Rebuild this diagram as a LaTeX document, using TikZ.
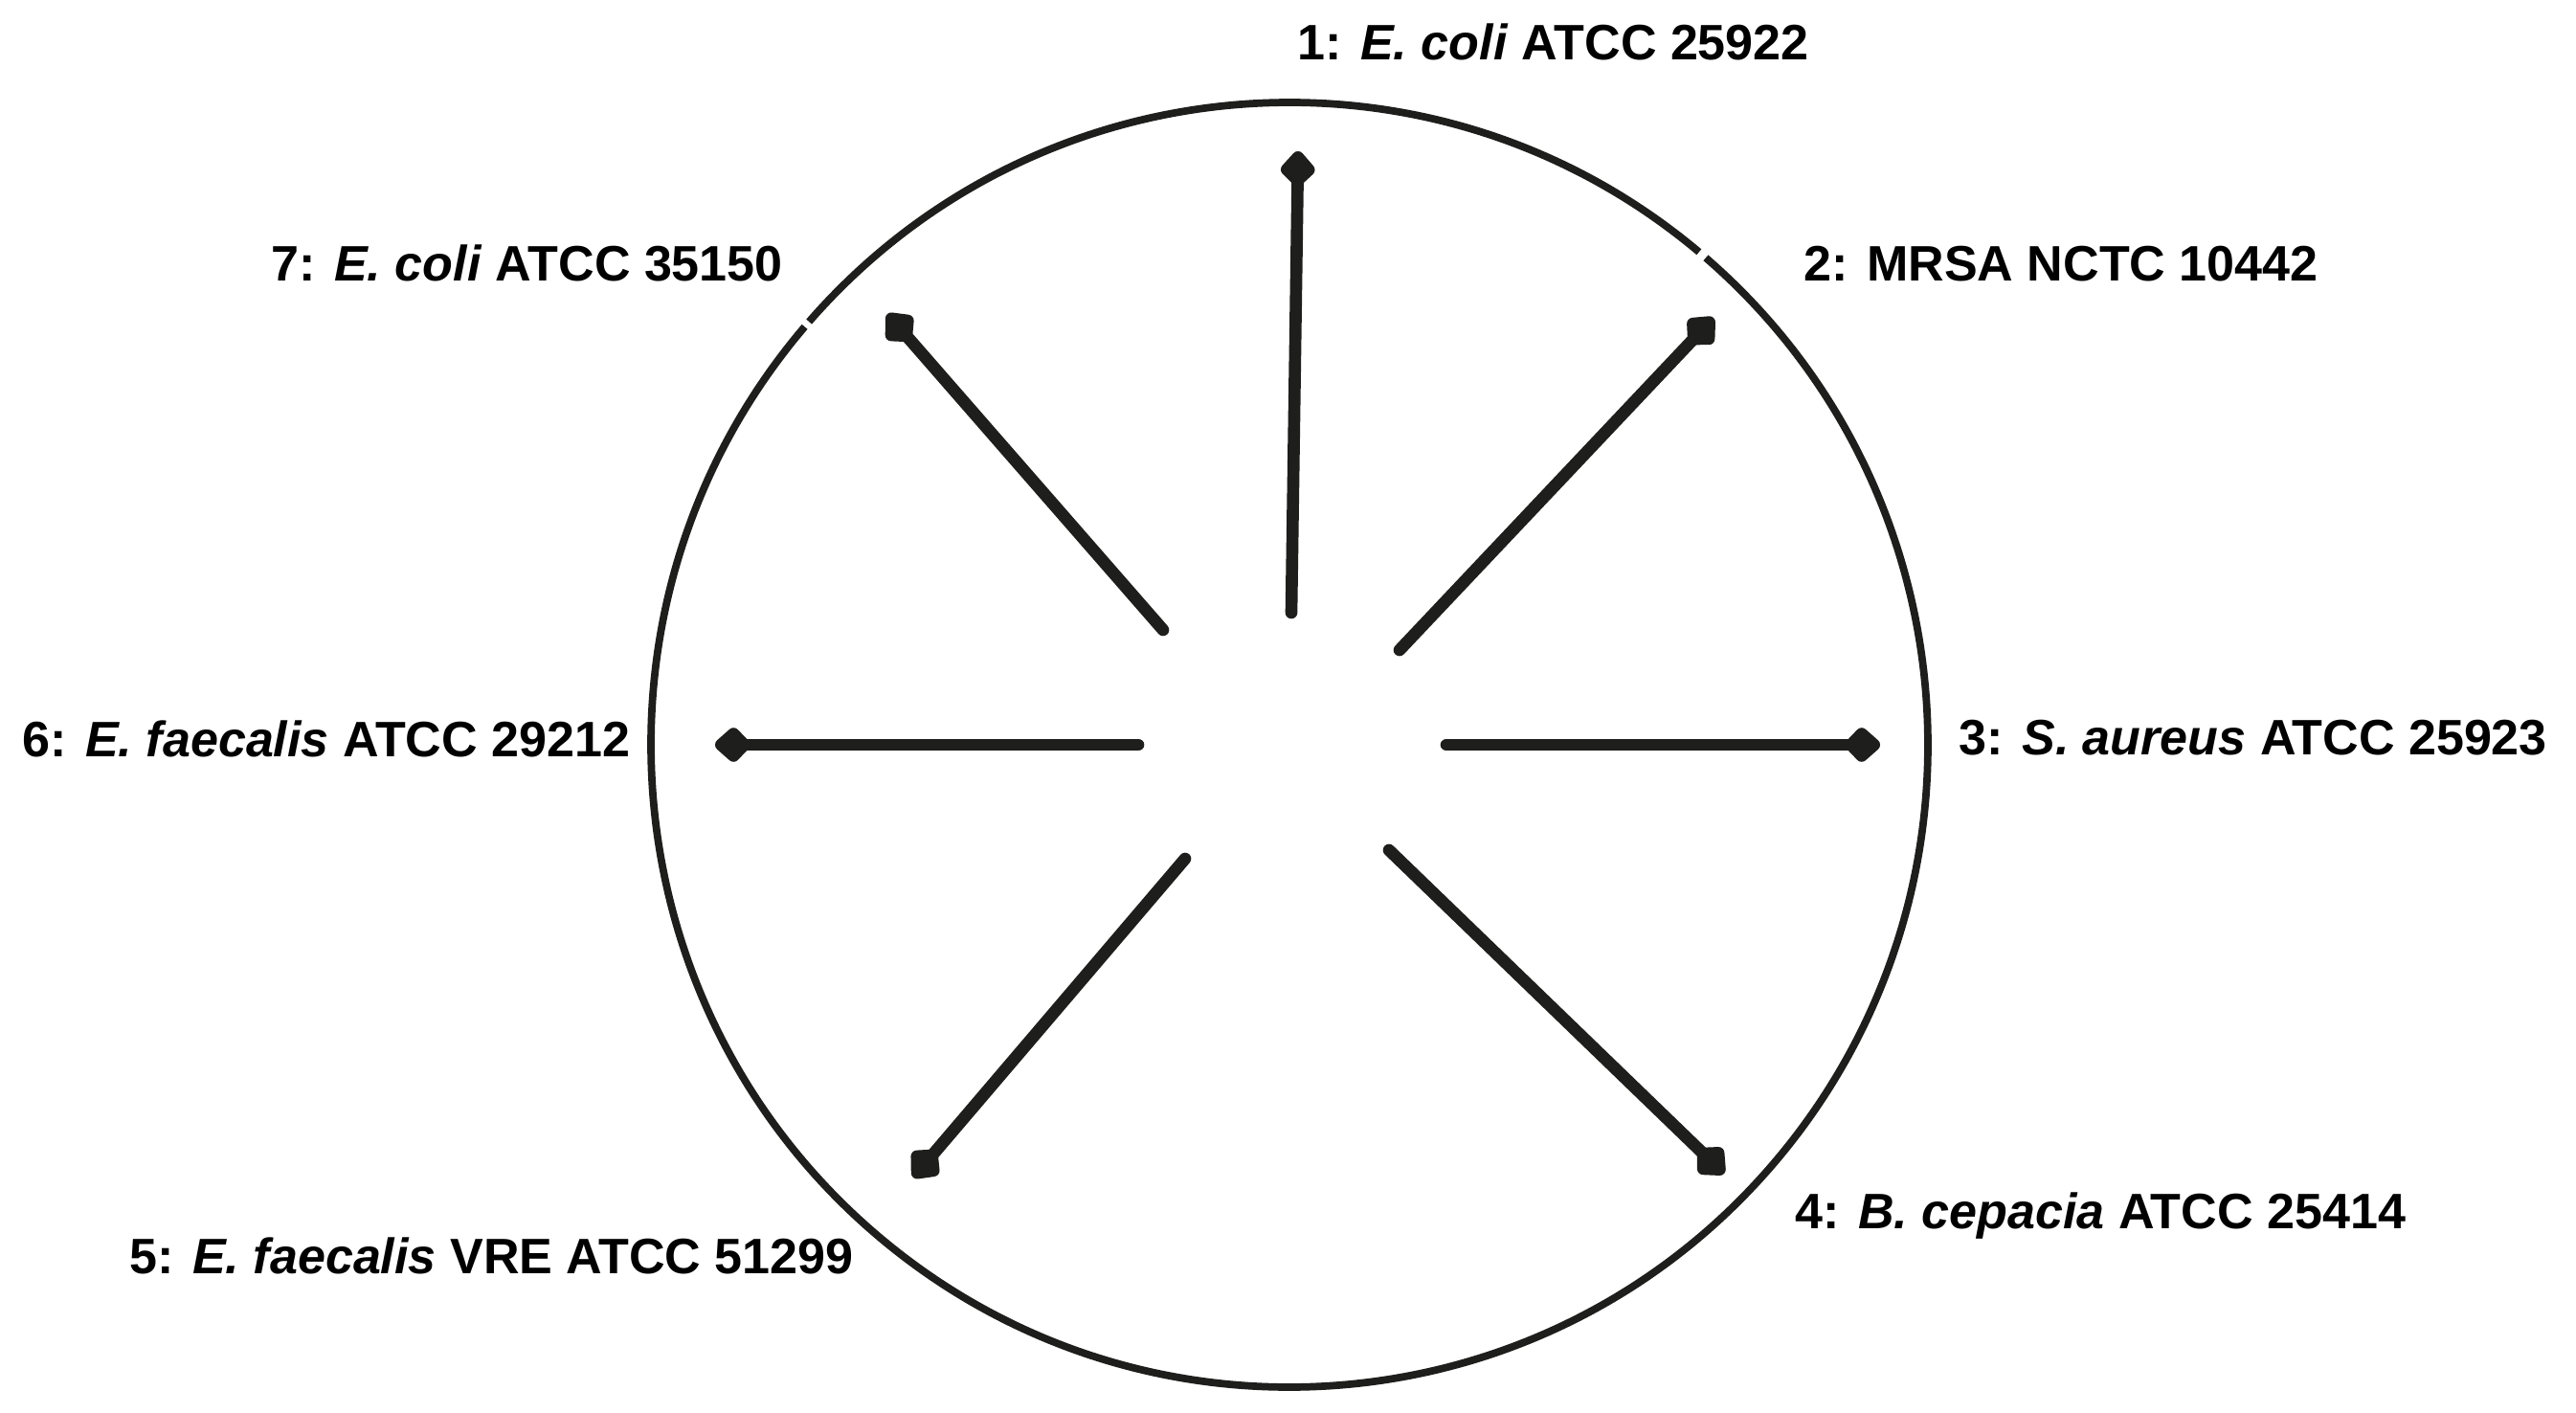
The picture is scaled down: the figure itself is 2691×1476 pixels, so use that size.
\documentclass[tikz,border=0pt]{standalone}
\usepackage{fontspec}
\setmainfont{Liberation Sans}
\usetikzlibrary{arrows.meta}
\definecolor{ink}{HTML}{1E1E1C}
\begin{document}
\begin{tikzpicture}[x=0.01cm,y=-0.01cm,
  ring/.style={draw=ink,line width=2.2pt},
  spoke/.style={draw=ink,line width=3.6pt,line cap=round,
    -{Kite[length=12pt,width=11.5pt,inset=5.5pt,round]}},
  lab/.style={anchor=base west,inner sep=0pt,text=black,
    font=\fontsize{14.8}{17}\selectfont\bfseries}]
\useasboundingbox (0,0) rectangle (2691,1476);
\fill[white] (0,0) rectangle (2691,1476);
\coordinate (c) at (1347,778);
% ring with two small breaks
\draw[ring] ([shift={(-50.1:667 and 671)}]c) arc[start angle=-50.1,end angle=-138.8,x radius=667,y radius=671];
\draw[ring] ([shift={(-139.4:667 and 671)}]c) arc[start angle=-139.4,end angle=-409.3,x radius=667,y radius=671];
% spokes
\coordinate (t1) at (1349,640); \coordinate (h1) at (1356,158);
\coordinate (t2) at (1462,679); \coordinate (h2) at (1790,332);
\coordinate (t3) at (1511,778); \coordinate (h3) at (1964,778);
\coordinate (t4) at (1451,888); \coordinate (h4) at (1801,1226);
\coordinate (t5) at (1238,897); \coordinate (h5) at (954,1230);
\coordinate (t6) at (1189,778); \coordinate (h6) at (747,778);
\coordinate (t7) at (1215,658); \coordinate (h7) at (927,328);
\foreach \i in {1,...,7} \draw[spoke] (t\i) -- (h\i);
% labels
\node[lab] (l1) at (1355,63) {1: \textit{E. coli} ATCC 25922};
\node[lab] (l2) at (1884,294) {2: MRSA NCTC 10442};
\node[lab] (l3) at (2046,788) {3: \textit{S. aureus} ATCC 25923};
\node[lab] (l4) at (1875,1283) {4: \textit{B. cepacia} ATCC 25414};
\node[lab] (l5) at (135,1330) {5: \textit{E. faecalis} VRE ATCC 51299};
\node[lab] (l6) at (23,790) {6: \textit{E. faecalis} ATCC 29212};
\node[lab] (l7) at (283,294) {7: \textit{E. coli} ATCC 35150};
\end{tikzpicture}
\end{document}
